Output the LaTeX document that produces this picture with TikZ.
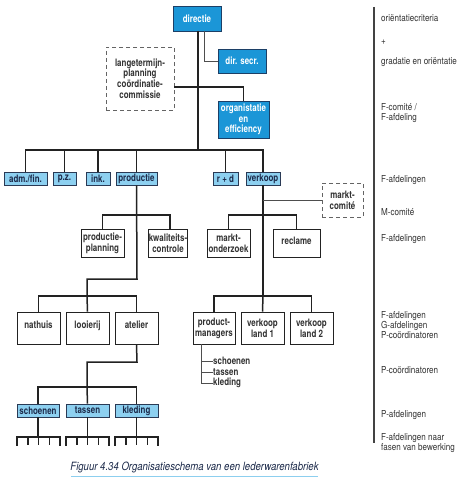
\documentclass[tikz,border=0pt]{standalone}
\usepackage{fontspec}
\setmainfont{TeX Gyre Heros}[FakeStretch=0.84]
\newfontfamily\boxfont{TeX Gyre Heros}[FakeStretch=0.78]
\definecolor{dkfill}{HTML}{1B96D7}
\definecolor{dkedge}{HTML}{1C3F66}
\definecolor{ltfill}{HTML}{8DD0F0}
\definecolor{ltedge}{HTML}{2A3A55}
\definecolor{navytext}{HTML}{1C2A4A}
\definecolor{linec}{HTML}{222222}
\definecolor{graytext}{HTML}{333333}
\definecolor{ulblue}{HTML}{8DCFEF}
\begin{document}
\begin{tikzpicture}[x=1pt,y=-1pt,
  base/.style={rectangle,inner sep=0pt,align=center,font=\boxfont\fontsize{10.2}{10.8}\selectfont\bfseries},
  dkbox/.style={base,draw=dkedge,fill=dkfill,text=white,line width=0.8pt},
  ltbox/.style={base,draw=ltedge,fill=ltfill,text=navytext,line width=0.8pt},
  whbox/.style={base,draw=linec,fill=white,text=graytext,line width=0.8pt},
  dshbox/.style={base,draw=linec!70,dashed,dash pattern=on 4pt off 3pt,text=graytext,line width=0.8pt},
  conn/.style={draw=linec,line width=1.5pt},
  thin/.style={draw=linec!80,line width=0.8pt},
  side/.style={anchor=west,inner sep=0pt,align=left,text=graytext,font=\fontsize{9.6}{9.8}\selectfont},
  sub/.style={anchor=west,inner sep=0pt,text=graytext,font=\boxfont\fontsize{10.2}{10.8}\selectfont\bfseries}
]
\useasboundingbox (0,0) rectangle (474,487);
\fill[white] (0,0) rectangle (474,487);

% top
\node[dkbox,minimum width=48pt,minimum height=25pt] (dir) at (197,18.5) {directie};
\node[dkbox,minimum width=48pt,minimum height=24pt] (sec) at (242,61) {dir. secr.};
\node[dshbox,minimum width=68pt,minimum height=63pt] (lange) at (140,78.5) {langetermijn-\\planning\\coördinatie-\\commissie};
\node[dkbox,minimum width=51pt,minimum height=37pt] (org) at (243.5,119.5) {organistatie\\en\\efficiency};

% first row
\node[ltbox,minimum width=43pt,minimum height=13pt] (adm) at (25.5,178.5) {adm./fin.};
\node[ltbox,minimum width=23pt,minimum height=13pt] (pz) at (64.5,178.5) {p.z.};
\node[ltbox,minimum width=24pt,minimum height=13pt] (ink) at (98,178.5) {ink.};
\node[ltbox,minimum width=41pt,minimum height=13pt] (prod) at (136.5,178.5) {productie};
\node[ltbox,minimum width=25pt,minimum height=13pt] (rd) at (225.5,178.5) {r + d};
\node[ltbox,minimum width=34pt,minimum height=13pt] (verk) at (263,178.5) {verkoop};
\node[dshbox,minimum width=41pt,minimum height=34pt] (mc) at (342.5,200) {markt-\\comité};

% second row
\node[whbox,minimum width=43pt,minimum height=28pt] (pp) at (102.5,243) {productie-\\planning};
\node[whbox,minimum width=38pt,minimum height=28pt] (kw) at (168,243) {kwaliteits-\\controle};
\node[whbox,minimum width=43pt,minimum height=28pt] (mo) at (228.5,243) {markt-\\onderzoek};
\node[whbox,minimum width=47pt,minimum height=28pt] (rec) at (296.5,243) {\raisebox{5pt}{reclame}};

% third row
\node[whbox,minimum width=43pt,minimum height=32pt] (nat) at (38.5,328) {\raisebox{6pt}{nathuis}};
\node[whbox,minimum width=43pt,minimum height=32pt] (loo) at (87.5,328) {\raisebox{6pt}{looierij}};
\node[whbox,minimum width=43pt,minimum height=32pt] (ate) at (136.5,328) {\raisebox{6pt}{atelier}};
\node[whbox,minimum width=42pt,minimum height=32pt] (pm) at (214,328) {product-\\managers};
\node[whbox,minimum width=43pt,minimum height=32pt] (vl1) at (262.5,328) {verkoop\\land 1};
\node[whbox,minimum width=43pt,minimum height=32pt] (vl2) at (311.5,328) {verkoop\\land 2};

% bottom row
\node[ltbox,minimum width=42pt,minimum height=13pt] (sch) at (38,410.5) {schoenen};
\node[ltbox,minimum width=43pt,minimum height=13pt] (tas) at (87.5,410.5) {tassen};
\node[ltbox,minimum width=43pt,minimum height=13pt] (kle) at (136.5,410.5) {kleding};

% product manager list
\node[sub] (l1) at (213,361) {schoenen};
\node[sub] (l2) at (213,372) {tassen};
\node[sub] (l3) at (213,383) {kleding};

% connectors top
\coordinate (bus) at (198,150);
\draw[conn] (198,31) -- (bus);
\draw[thin] (204,31) |- (sec.west);
\draw[conn] (lange.east |- 0,87) -| (org.north);
\draw[conn] (adm.north) |- (bus) -| (verk.north);
\foreach \n in {pz,ink,prod,rd} \draw[conn] (\n.north) -- (\n.north |- bus);

% productie branch
\draw[conn] (prod.south) -- (137,279) -| (87,296);
\draw[conn] (nat.north) |- (87,296) -| (ate.north);
\draw[conn] (loo.north) -- (87,296);
\draw[conn] (pp.north) |- (137,215) -| (170,229);

% verkoop branch
\draw[conn] (verk.south) -- (263,296);
\draw[thin] (263,200) -- (mc.west);
\draw[conn] (mo.north) |- (263,215) -| (rec.north);
\draw[conn] (pm.north) |- (263,296) -| (vl2.north);
\draw[conn] (vl1.north) -- (263,296);

% pm list
\draw[thin] (201,344) |- (l3.west);
\draw[thin] (201,361) -- (l1.west);
\draw[thin] (201,372) -- (l2.west);

% atelier branch
\draw[conn] (ate.south) -- (137,362) -| (87,387);
\draw[conn] (sch.north) |- (87,387) -| (kle.north);
\draw[conn] (tas.north) -- (87,387);

% combs
\foreach \n/\l/\r in {sch/17/60,tas/66/109,kle/115/158}{
  \draw[conn] (\n.south) -- (\n.south |- 0,437);
  \draw[conn,line cap=rect] (\l,445) -- (\l,437) -- (\r,437) -- (\r,445);
  \foreach \k in {0.25,0.5,0.75}{
    \draw[conn] ({\l+\k*(\r-\l)},437) -- ({\l+\k*(\r-\l)},445);
  }
}

% right column
\draw[draw=linec!85,line width=1.4pt] (374,7) -- (374,443);
\node[side] at (381,18) {oriëntatiecriteria};
\node[side] at (381,42) {+};
\node[side] at (381,62) {gradatie en oriëntatie};
\node[side] at (381,113) {F-comité /\\F-afdeling};
\node[side] at (381,180) {F-afdelingen};
\node[side] at (381,212) {M-comité};
\node[side] at (381,239) {F-afdelingen};
\node[side] at (381,325) {F-afdelingen\\G-afdelingen\\P-coördinatoren};
\node[side] at (381,370) {P-coördinatoren};
\node[side] at (381,415) {P-afdelingen};
\node[side] at (381,443) {F-afdelingen naar\\fasen van bewerking};

% caption
\node[inner sep=0pt,text=navytext,font=\fontsize{11.4}{13}\selectfont\itshape] (cap) at (194.5,467.5) {Figuur 4.34 Organisatieschema van een lederwarenfabriek};
\draw[ulblue,line width=0.8pt] (71,476.5) -- (318,476.5);
\end{tikzpicture}
\end{document}
